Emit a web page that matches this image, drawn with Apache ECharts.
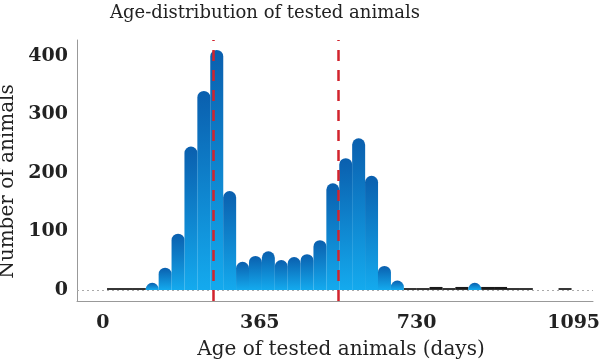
<!DOCTYPE html>
<html>
<head>
<meta charset="utf-8">
<script src="https://cdn.jsdelivr.net/npm/echarts@6/dist/echarts.min.js"></script>
<style>
html,body{margin:0;padding:0;background:#fff;}
#chart{width:600px;height:362px;}
</style>
</head>
<body>
<div id="chart"></div>
<script>
// Bin centres (days) and counts for the main histogram bars
const binCenters = [115,145,175,205,235,265,295,325,355,385,415,445,475,505,535,565,595,625,655,685,865];
const binCounts  = [12,38,96,245,340,410,169,48,58,66,51,56,61,85,182,225,259,195,41,16,12];
// Very low count bins (drawn as thin dark segments)
const lowCenters = [25,55,85,715,745,775,805,835,895,925,955,985,1075];
const lowCounts  = [3,3,3,3,3,5,3,5,5,5,3,3,3];
// Reference ages (dashed lines)
const refLines = [256,547];
const xTicks = [0,365,730,1095];
const yTicks = [0,100,200,300,400];

const FONT = 'DejaVu Serif';
const chart = echarts.init(document.getElementById('chart'));
chart.setOption({
  animation:false,
  backgroundColor:'#fff',
  title:{
    text:'Age-distribution of tested animals',
    left:260, top:-1, textAlign:'center',
    textStyle:{fontFamily:FONT,fontSize:18,fontWeight:'normal',color:'#222'}
  },
  grid:{left:77,right:7,top:40,bottom:61,containLabel:false,outerBoundsMode:'none'},
  xAxis:{
    type:'value',min:-60,max:1140,
    name:'Age of tested animals (days)',nameLocation:'middle',nameGap:39,
    nameTextStyle:{fontFamily:FONT,fontSize:20,color:'#222',padding:[0,0,0,12]},
    axisLine:{show:true,onZero:false,lineStyle:{color:'#999',width:1}},
    axisTick:{show:false},splitLine:{show:false},
    axisLabel:{customValues:xTicks,formatter:v=>String(v),fontFamily:FONT,fontSize:19,fontWeight:'bold',color:'#222',margin:13}
  },
  yAxis:{
    type:'value',min:-19,max:427,
    name:'Number of animals',nameLocation:'middle',nameGap:55,
    nameTextStyle:{fontFamily:FONT,fontSize:20,color:'#222',padding:[0,22,0,0]},
    axisLine:{show:true,onZero:false,lineStyle:{color:'#999',width:1}},
    axisTick:{show:false},splitLine:{show:false},
    axisLabel:{customValues:yTicks,formatter:v=>String(v),fontFamily:FONT,fontSize:19,fontWeight:'bold',color:'#222',margin:9,padding:[4,0,0,0]}
  },
  series:[
    {
      type:'bar',
      data:lowCenters.map((c,i)=>[c,lowCounts[i]]),
      barWidth:13,barGap:'-100%',z:2,
      itemStyle:{color:'#1a1a1a'},
      markLine:{
        silent:true,symbol:'none',label:{show:false},
        lineStyle:{color:'#aaa',type:[2,3],width:1},
        data:[{yAxis:0}]
      }
    },
    {
      type:'bar',
      data:binCenters.map((c,i)=>[c,binCounts[i]]),
      barWidth:13,barGap:'-100%',z:3,
      itemStyle:{
        borderRadius:[6.5,6.5,0,0],
        color:new echarts.graphic.LinearGradient(0,0,0,1,[
          {offset:0,color:'#0a5fae'},
          {offset:1,color:'#14aaee'}
        ])
      },
      markLine:{
        silent:true,symbol:'none',label:{show:false},
        lineStyle:{color:'#d2232d',type:[11,9],width:2.5},
        data:refLines.map(v=>({xAxis:v}))
      }
    }
  ]
});
</script>
</body>
</html>
